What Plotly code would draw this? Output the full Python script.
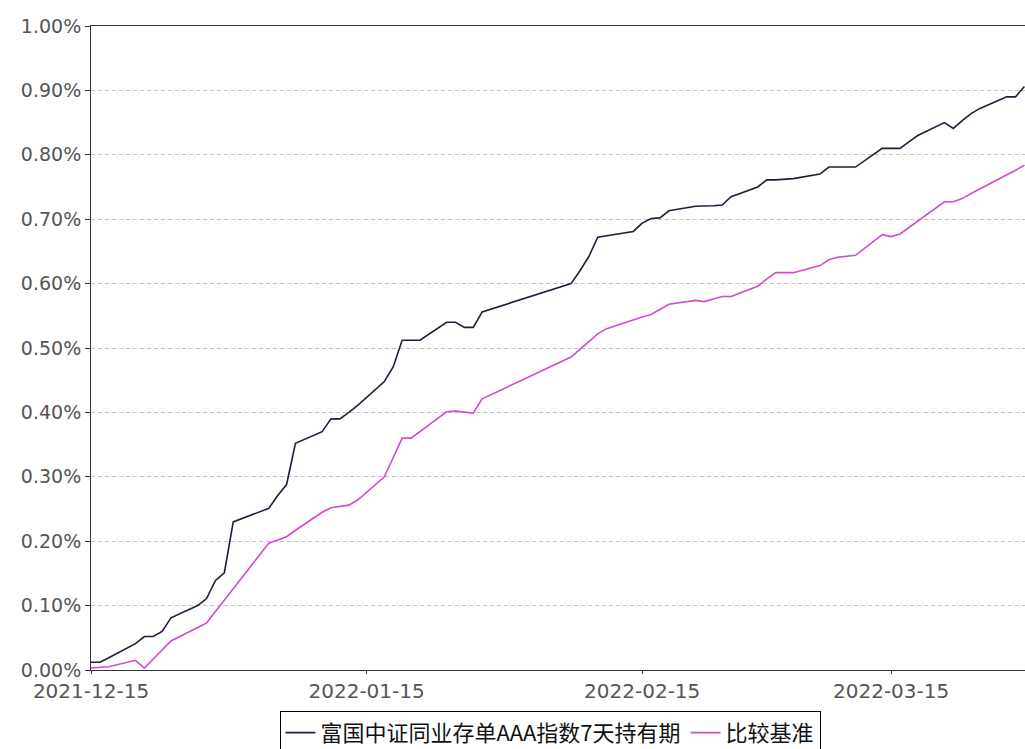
import plotly.graph_objects as go

dates = [
    "2021-12-15", "2021-12-16", "2021-12-17", "2021-12-20", "2021-12-21", "2021-12-22",
    "2021-12-23", "2021-12-24", "2021-12-27", "2021-12-28", "2021-12-29", "2021-12-30",
    "2021-12-31", "2022-01-04", "2022-01-05", "2022-01-06", "2022-01-07", "2022-01-10",
    "2022-01-11", "2022-01-12", "2022-01-13", "2022-01-14", "2022-01-17", "2022-01-18",
    "2022-01-19", "2022-01-20", "2022-01-21", "2022-01-24", "2022-01-25", "2022-01-26",
    "2022-01-27", "2022-01-28", "2022-02-07", "2022-02-08", "2022-02-09", "2022-02-10",
    "2022-02-11", "2022-02-14", "2022-02-15", "2022-02-16", "2022-02-17", "2022-02-18",
    "2022-02-21", "2022-02-22", "2022-02-23", "2022-02-24", "2022-02-25", "2022-02-28",
    "2022-03-01", "2022-03-02", "2022-03-03", "2022-03-04", "2022-03-07", "2022-03-08",
    "2022-03-09", "2022-03-10", "2022-03-11", "2022-03-14", "2022-03-15", "2022-03-16",
    "2022-03-17", "2022-03-18", "2022-03-21", "2022-03-22", "2022-03-23", "2022-03-24",
    "2022-03-25", "2022-03-28", "2022-03-29", "2022-03-30",
]

fund_return = [
    0.012, 0.012, 0.019, 0.041, 0.052, 0.052,
    0.060, 0.081, 0.100, 0.111, 0.139, 0.151,
    0.230, 0.251, 0.271, 0.288, 0.352, 0.370,
    0.390, 0.390, 0.400, 0.411, 0.448, 0.471,
    0.512, 0.512, 0.512, 0.540, 0.540, 0.532,
    0.532, 0.556, 0.600, 0.620, 0.642, 0.672,
    0.674, 0.681, 0.694, 0.701, 0.702, 0.713,
    0.720, 0.720, 0.721, 0.722, 0.735, 0.750,
    0.761, 0.761, 0.762, 0.763, 0.770, 0.781,
    0.781, 0.781, 0.781, 0.810, 0.810, 0.810,
    0.820, 0.830, 0.850, 0.841, 0.853, 0.864,
    0.872, 0.890, 0.890, 0.906,
]

benchmark_return = [
    0.003, 0.004, 0.005, 0.015, 0.003, 0.017,
    0.031, 0.045, 0.066, 0.073, 0.091, 0.109,
    0.126, 0.197, 0.202, 0.207, 0.217, 0.245,
    0.252, 0.254, 0.256, 0.264, 0.300, 0.330,
    0.360, 0.360, 0.370, 0.401, 0.402, 0.400,
    0.399, 0.421, 0.486, 0.498, 0.510, 0.522,
    0.530, 0.544, 0.548, 0.552, 0.560, 0.568,
    0.574, 0.572, 0.576, 0.580, 0.580, 0.596,
    0.607, 0.617, 0.617, 0.617, 0.628, 0.637,
    0.641, 0.643, 0.644, 0.676, 0.673, 0.677,
    0.687, 0.697, 0.727, 0.727, 0.732, 0.740,
    0.747, 0.768, 0.776, 0.784,
]

series_names = ["富国中证同业存单AAA指数7天持有期", "比较基准"]
x_tick_vals = ["2021-12-15", "2022-01-15", "2022-02-15", "2022-03-15"]
y_tick_vals = [0.0, 0.1, 0.2, 0.3, 0.4, 0.5, 0.6, 0.7, 0.8, 0.9, 1.0]
y_tick_text = ["0.00%", "0.10%", "0.20%", "0.30%", "0.40%", "0.50%",
               "0.60%", "0.70%", "0.80%", "0.90%", "1.00%"]

fig = go.Figure()
fig.add_trace(go.Scatter(
    x=dates, y=fund_return, mode="lines", name=series_names[0],
    line=dict(color="#1e1e3c", width=1.6),
))
fig.add_trace(go.Scatter(
    x=dates, y=benchmark_return, mode="lines", name=series_names[1],
    line=dict(color="#d24ad2", width=1.6),
))

fig.update_layout(
    width=1025, height=749,
    margin=dict(l=91, r=0, t=26, b=79, autoexpand=False),
    plot_bgcolor="white", paper_bgcolor="white",
    showlegend=True,
    legend=dict(
        orientation="h", xref="container", yref="container",
        x=0.5366, xanchor="center", y=0.051, yanchor="top",
        bgcolor="white", bordercolor="#000000", borderwidth=1,
        font=dict(family="Noto Sans CJK SC", size=22, color="#111111"),
        itemwidth=30, tracegroupgap=0,
    ),
    xaxis=dict(
        type="date", automargin=False,
        range=["2021-12-15", "2022-03-30 01:30"],
        tickvals=x_tick_vals, tickformat="%Y-%m-%d",
        showgrid=False, zeroline=False,
        showline=True, linecolor="#333333", linewidth=1, mirror=True,
        ticks="outside", ticklen=3, tickcolor="#333333",
        tickfont=dict(family="DejaVu Sans", size=20, color="#555555"),
    ),
    yaxis=dict(
        range=[0, 1.0], automargin=False,
        tickmode="array", tickvals=y_tick_vals, ticktext=y_tick_text,
        showgrid=True, gridcolor="#c4c4c4", gridwidth=1, griddash="4px,3px",
        zeroline=False,
        showline=True, linecolor="#333333", linewidth=1,
        ticks="outside", ticklen=5, tickcolor="#333333",
        tickfont=dict(family="DejaVu Sans", size=19, color="#555555"),
    ),
)

fig.write_html(
    "out.html",
    config={"displayModeBar": False},
    post_script="document.body.style.margin='0';document.documentElement.style.overflow='hidden';",
)
